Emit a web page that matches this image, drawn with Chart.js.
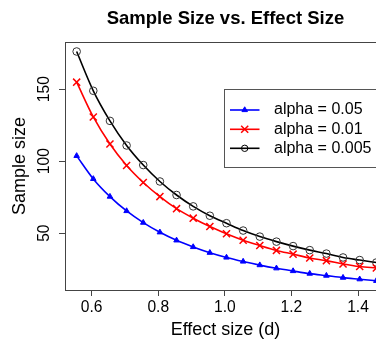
<!DOCTYPE html>
<html><head><meta charset="utf-8">
<script src="https://cdn.jsdelivr.net/npm/chart.js@4.4.1/dist/chart.umd.min.js"></script>
<style>
html,body{margin:0;padding:0;background:#fff;overflow:hidden}
#wrap{width:376px;height:339px;overflow:hidden;position:relative}
canvas{display:block}
</style>
</head><body>
<div id="wrap"><canvas id="c" width="400" height="339" style="width:400px;height:339px"></canvas></div>
<script>
// ---- data ----
const effectSizes = [0.555, 0.605, 0.655, 0.705, 0.755, 0.805, 0.855, 0.905, 0.955, 1.005,
                     1.055, 1.105, 1.155, 1.205, 1.255, 1.305, 1.355, 1.405, 1.455];
const nAlpha05  = [103.7, 87.7, 75.4, 65.4, 57.3, 50.6, 45.0, 40.4, 36.4, 33.1,
                   30.3, 27.8, 25.6, 23.7, 21.9, 20.5, 19.1, 18.0, 16.9];
const nAlpha01  = [154.9, 130.7, 111.9, 97.0, 85.2, 75.4, 67.0, 60.4, 54.6, 49.6,
                   45.1, 41.4, 38.0, 35.4, 32.7, 30.9, 28.6, 26.8, 25.8];
const nAlpha005 = [176.2, 148.9, 128.0, 110.9, 97.3, 85.9, 76.5, 68.6, 62.1, 56.9,
                   51.8, 47.6, 44.1, 41.0, 38.2, 35.8, 33.1, 31.3, 29.6];
const seriesLabels = ['alpha = 0.05', 'alpha = 0.01', 'alpha = 0.005'];
const xTicks = [0.6, 0.8, 1.0, 1.2, 1.4];
const yTicks = [50, 100, 150];
const titleText = 'Sample Size vs. Effect Size';
const xTitle = 'Effect size (d)';
const yTitle = 'Sample size';

const FONT = "'Liberation Sans', Arial, Helvetica, sans-serif";
Chart.defaults.font.family = FONT;
Chart.defaults.color = '#000';

function pts(ys){ return effectSizes.map((x,i)=>({x:x, y:ys[i]})); }

const styles = [
  {color:'#0000ff', point:'triangle', r:3.2, bw:1, bg:'#0000ff'},
  {color:'#ff0000', point:'crossRot', r:5, bw:1.5, bg:'#ff0000'},
  {color:'#000000', point:'circle', r:3.8, bw:1, bg:'rgba(0,0,0,0)'}
];
const seriesValues = [nAlpha05, nAlpha01, nAlpha005];

const datasets = seriesValues.map((vals,i)=>({
  label: seriesLabels[i],
  data: pts(vals),
  borderColor: styles[i].color,
  backgroundColor: styles[i].color,
  borderWidth: 1.6,
  cubicInterpolationMode: 'monotone',
  pointStyle: styles[i].point,
  pointRadius: styles[i].r,
  pointBorderWidth: styles[i].bw,
  pointBorderColor: i===2 ? '#333' : styles[i].color,
  pointBackgroundColor: styles[i].bg
}));

function drawMarker(ctx, style, x, y, r, color){
  ctx.save();
  ctx.strokeStyle = color; ctx.fillStyle = color;
  ctx.beginPath();
  if (style === 'triangle'){
    ctx.lineWidth = 1;
    ctx.moveTo(x, y - r);
    ctx.lineTo(x + 0.866*r, y + 0.5*r);
    ctx.lineTo(x - 0.866*r, y + 0.5*r);
    ctx.closePath(); ctx.fill(); ctx.stroke();
  } else if (style === 'crossRot'){
    ctx.lineWidth = 1.5;
    const o = r*0.7071;
    ctx.moveTo(x-o,y-o); ctx.lineTo(x+o,y+o);
    ctx.moveTo(x+o,y-o); ctx.lineTo(x-o,y+o);
    ctx.stroke();
  } else {
    ctx.lineWidth = 1;
    ctx.arc(x, y, r, 0, Math.PI*2);
    ctx.stroke();
  }
  ctx.restore();
}

const framePlugin = {
  id: 'frame',
  afterDraw(chart){
    const {ctx, chartArea:a} = chart;
    ctx.save();
    ctx.strokeStyle = '#444';
    ctx.lineWidth = 1;
    ctx.strokeRect(Math.round(a.left)+0.5, Math.round(a.top)+0.5,
                   Math.round(a.right-a.left), Math.round(a.bottom-a.top));
    // legend box
    const lx = 224.5, ly = 89.5, lw = 170, lh = 78;
    ctx.fillStyle = '#fff';
    ctx.fillRect(lx, ly, lw, lh);
    ctx.strokeStyle = '#555';
    ctx.strokeRect(lx, ly, lw, lh);
    const rows = [110, 129.3, 148.3];
    chart.data.datasets.forEach((ds,i)=>{
      const y = rows[i];
      ctx.beginPath();
      ctx.strokeStyle = ds.borderColor;
      ctx.lineWidth = 1.6;
      ctx.moveTo(230, y); ctx.lineTo(259.5, y);
      ctx.stroke();
      drawMarker(ctx, styles[i].point, 244.7, y, i===2?3.2:styles[i].r, i===2?'#000':styles[i].color);
      ctx.fillStyle = '#000';
      ctx.font = '16px ' + FONT;
      ctx.textBaseline = 'middle';
      ctx.textAlign = 'left';
      ctx.fillText(ds.label, 274, y);
    });
    ctx.restore();
  }
};

new Chart(document.getElementById('c'), {
  type: 'line',
  data: {datasets},
  plugins: [framePlugin],
  options: {
    responsive: false,
    animation: false,
    devicePixelRatio: 1,
    layout: {padding: {left:0, right:14, top:0, bottom:0}},
    plugins: {
      legend: {display:false},
      tooltip: {enabled:false},
      title: {
        display: true,
        text: titleText,
        fullSize: false,
        color: '#000',
        font: {size: 18.5, weight: 'bold', family: FONT, lineHeight: 1.2},
        padding: {top: 7.5, bottom: 12.3}
      }
    },
    scales: {
      x: {
        type: 'linear',
        min: 0.52, max: 1.484,
        afterBuildTicks(s){ s.ticks = xTicks.map(v=>({value:v})); },
        afterFit(s){ s.height = 49; },
        ticks: {
          font: {size: 15.6, family: FONT},
          color: '#000',
          padding: 2.2,
          maxRotation: 0,
          callback: v => Number(v).toFixed(1)
        },
        grid: {drawOnChartArea:false, drawTicks:true, tickLength:6, color:'#444'},
        border: {display:false},
        title: {display:true, text:xTitle, color:'#000',
                font:{size:18, family:FONT, lineHeight:1.0}, padding:{top:0,bottom:0}}
      },
      y: {
        type: 'linear',
        min: 10.5, max: 182.8,
        afterBuildTicks(s){ s.ticks = yTicks.map(v=>({value:v})); },
        afterFit(s){ s.width = 65; },
        ticks: {
          font: {size: 15.6, family: FONT},
          color: '#000',
          padding: 1.4,
          minRotation: 90, maxRotation: 90,
          crossAlign: 'center',
          callback: v => String(v)
        },
        grid: {drawOnChartArea:false, drawTicks:true, tickLength:6, color:'#444'},
        border: {display:false},
        title: {display:true, text:yTitle, color:'#000',
                font:{size:18, family:FONT, lineHeight:1.0}, padding:{top:10.8,bottom:0}}
      }
    }
  }
});
</script>
</body></html>
